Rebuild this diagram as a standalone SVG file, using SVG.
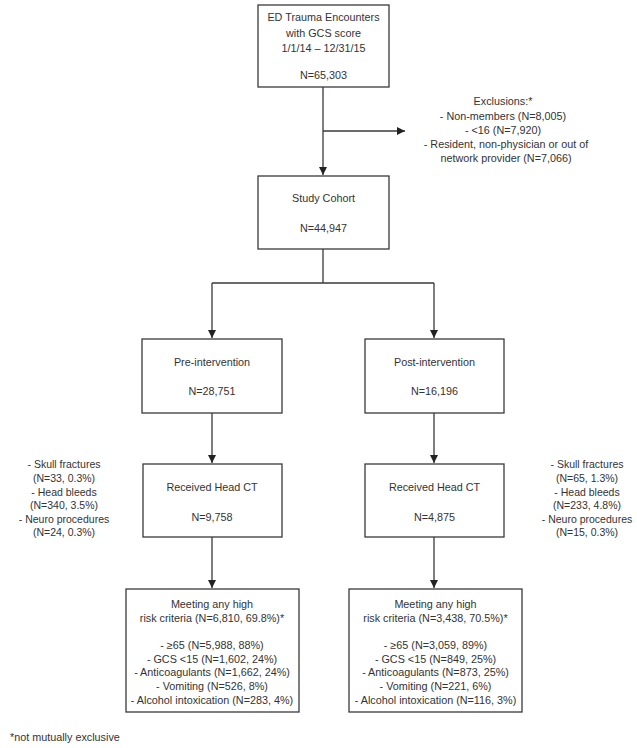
<svg xmlns="http://www.w3.org/2000/svg" width="637" height="748" viewBox="0 0 637 748">
<style>
.box{fill:#fff;stroke:#3a3a3a;stroke-width:1.3}
.ln{fill:none;stroke:#3a3a3a;stroke-width:1.3}
text{font-family:"Liberation Sans",Arial,sans-serif;font-size:10.8px;fill:#333;text-anchor:middle}
.n{font-size:10.5px}
.l{text-anchor:start}
</style>
<defs>
<marker id="ah" markerWidth="10" markerHeight="10" refX="8" refY="4" orient="auto" markerUnits="userSpaceOnUse">
<path d="M0,0 L8,4 L0,8 Z" fill="#222"/>
</marker>
</defs>
<rect width="637" height="748" fill="#fff"/>
<g id="connectors">
<path class="ln" d="M323,87 V175" marker-end="url(#ah)"/>
<path class="ln" d="M323,131 H405" marker-end="url(#ah)"/>
<path class="ln" d="M323,249 V283 M212,283 H434"/>
<path class="ln" d="M212,283 V338" marker-end="url(#ah)"/>
<path class="ln" d="M434,283 V338" marker-end="url(#ah)"/>
<path class="ln" d="M212,413 V463" marker-end="url(#ah)"/>
<path class="ln" d="M434,413 V463" marker-end="url(#ah)"/>
<path class="ln" d="M212,537 V588" marker-end="url(#ah)"/>
<path class="ln" d="M434,537 V588" marker-end="url(#ah)"/>
</g>
<g id="encounters">
<rect class="box" x="258" y="5" width="131" height="82"/>
<text x="323.5" y="21">ED Trauma Encounters</text>
<text x="323.5" y="37">with GCS score</text>
<text x="323.5" y="52">1/1/14 – 12/31/15</text>
<text x="323.5" y="79">N=65,303</text>
</g>
<g id="exclusions">
<text x="503" y="105">Exclusions:*</text>
<text x="503" y="120">- Non-members (N=8,005)</text>
<text x="503" y="134">- &lt;16 (N=7,920)</text>
<text x="506" y="148">- Resident, non-physician or out of</text>
<text x="506" y="162">network provider (N=7,066)</text>
</g>
<g id="cohort">
<rect class="box" x="258" y="176" width="131" height="73"/>
<text x="323.5" y="202">Study Cohort</text>
<text x="323.5" y="232">N=44,947</text>
</g>
<g id="pre">
<rect class="box" x="142" y="339" width="140" height="74"/>
<text x="212" y="366">Pre-intervention</text>
<text x="212" y="395">N=28,751</text>
</g>
<g id="post">
<rect class="box" x="365" y="339" width="139" height="74"/>
<text x="434.5" y="366">Post-intervention</text>
<text x="434.5" y="395">N=16,196</text>
</g>
<g id="ct-pre">
<rect class="box" x="143" y="464" width="139" height="73"/>
<text x="212" y="491">Received Head CT</text>
<text x="212" y="521">N=9,758</text>
</g>
<g id="ct-post">
<rect class="box" x="365" y="464" width="139" height="73"/>
<text x="434.5" y="491">Received Head CT</text>
<text x="434.5" y="521">N=4,875</text>
</g>
<g id="outcomes-pre">
<text class="n" x="64" y="468">- Skull fractures</text>
<text class="n" x="64" y="482">(N=33, 0.3%)</text>
<text class="n" x="64" y="496">- Head bleeds</text>
<text class="n" x="64" y="509">(N=340, 3.5%)</text>
<text class="n" x="64" y="523">- Neuro procedures</text>
<text class="n" x="64" y="536">(N=24, 0.3%)</text>
</g>
<g id="outcomes-post">
<text class="n" x="587" y="468">- Skull fractures</text>
<text class="n" x="587" y="482">(N=65, 1.3%)</text>
<text class="n" x="587" y="496">- Head bleeds</text>
<text class="n" x="587" y="509">(N=233, 4.8%)</text>
<text class="n" x="587" y="523">- Neuro procedures</text>
<text class="n" x="587" y="536">(N=15, 0.3%)</text>
</g>
<g id="risk-pre">
<rect class="box" x="126" y="589" width="173" height="123"/>
<text x="212" y="608">Meeting any high</text>
<text x="212" y="622">risk criteria (N=6,810, 69.8%)*</text>
<text x="212" y="649">- ≥65 (N=5,988, 88%)</text>
<text x="212" y="663">- GCS &lt;15 (N=1,602, 24%)</text>
<text x="212" y="676">- Anticoagulants (N=1,662, 24%)</text>
<text x="212" y="690">- Vomiting (N=526, 8%)</text>
<text x="212" y="704">- Alcohol intoxication (N=283, 4%)</text>
</g>
<g id="risk-post">
<rect class="box" x="349" y="589" width="173" height="123"/>
<text x="435.5" y="608">Meeting any high</text>
<text x="435.5" y="622">risk criteria (N=3,438, 70.5%)*</text>
<text x="435.5" y="649">- ≥65 (N=3,059, 89%)</text>
<text x="435.5" y="663">- GCS &lt;15 (N=849, 25%)</text>
<text x="435.5" y="676">- Anticoagulants (N=873, 25%)</text>
<text x="435.5" y="690">- Vomiting (N=221, 6%)</text>
<text x="435.5" y="704">- Alcohol intoxication (N=116, 3%)</text>
</g>
<g id="footnote">
<text class="l" x="10" y="741">*not mutually exclusive</text>
</g>
</svg>
